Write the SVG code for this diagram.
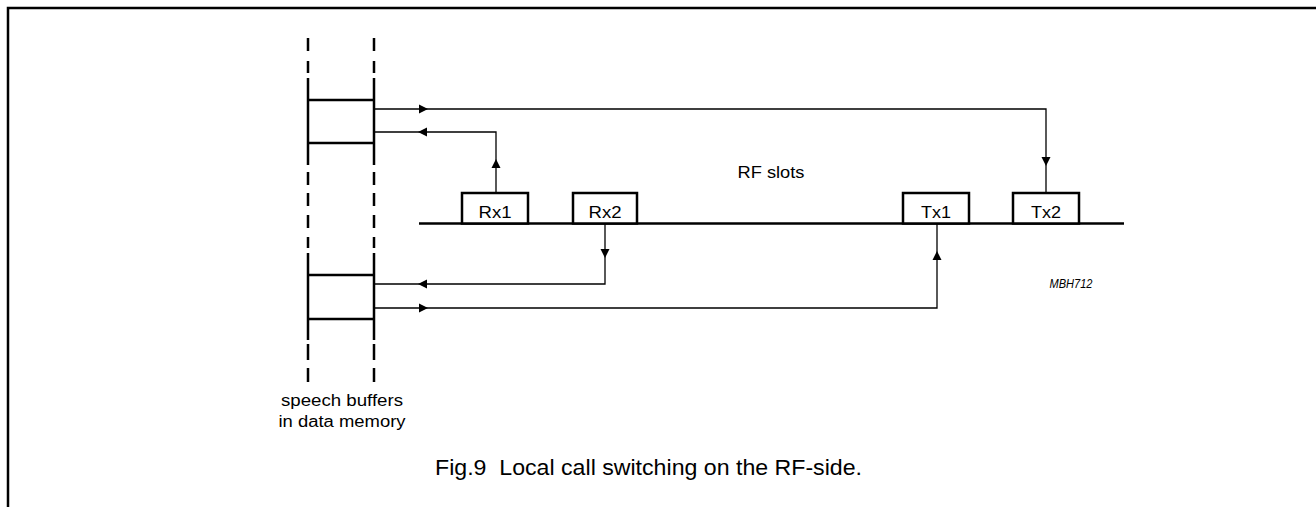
<svg xmlns="http://www.w3.org/2000/svg" width="1316" height="507" viewBox="0 0 1316 507">
<style>
.thick{stroke:#000;stroke-width:2.5;fill:none}
.thin{stroke:#000;stroke-width:1.3;fill:none}
.box{stroke:#000;stroke-width:2.5;fill:#fff}
.ah{fill:#000;stroke:none}
text{font-family:"Liberation Sans",Arial,Helvetica,sans-serif;fill:#000}
.lbl{font-size:16px;text-anchor:middle}
</style>
<rect width="1316" height="507" fill="#fff"/>
<path class="thick" d="M8,507 V8 H1316"/>

<g id="buffers">
  <path class="thick" d="M308,38V51M308,61V73M308,78V165M308,172V185M308,193V206M308,215V228M308,237V248M308,253V340M308,344V360M308,368V382"/>
  <path class="thick" d="M374,38V51M374,61V73M374,78V165M374,172V185M374,193V206M374,215V228M374,237V248M374,253V340M374,344V360M374,368V382"/>
  <path class="thick" d="M308,100H374M308,143H374M308,275H374M308,319H374"/>
  <text x="342" y="406" font-size="16" textLength="122" lengthAdjust="spacingAndGlyphs" text-anchor="middle">speech buffers</text>
  <text x="342" y="427" font-size="16" textLength="127" lengthAdjust="spacingAndGlyphs" text-anchor="middle">in data memory</text>
</g>

<g id="rf-line">
  <path class="thick" d="M419,223.5H1124"/>
</g>

<g id="rx1"><rect class="box" x="462" y="193" width="66" height="30.5"/><text class="lbl" x="495" y="218" textLength="33" lengthAdjust="spacingAndGlyphs">Rx1</text></g>
<g id="rx2"><rect class="box" x="573" y="193" width="64" height="30.5"/><text class="lbl" x="605" y="218" textLength="33" lengthAdjust="spacingAndGlyphs">Rx2</text></g>
<g id="tx1"><rect class="box" x="903" y="193" width="66" height="30.5"/><text class="lbl" x="936" y="218" textLength="30" lengthAdjust="spacingAndGlyphs">Tx1</text></g>
<g id="tx2"><rect class="box" x="1013" y="193" width="66" height="30.5"/><text class="lbl" x="1046" y="218" textLength="30" lengthAdjust="spacingAndGlyphs">Tx2</text></g>

<g id="connectors">
  <path class="thin" d="M374,109H1046V193"/>
  <polygon class="ah" points="428,109 419,104.5 419,113.5"/>
  <polygon class="ah" points="1046,166 1041.5,157 1050.5,157"/>

  <path class="thin" d="M496,193V132H374"/>
  <polygon class="ah" points="496,159 491.5,168 500.5,168"/>
  <polygon class="ah" points="418,132 427,127.5 427,136.5"/>

  <path class="thin" d="M605,224V284H374"/>
  <polygon class="ah" points="605,258 600.5,249 609.5,249"/>
  <polygon class="ah" points="418,284 427,279.5 427,288.5"/>

  <path class="thin" d="M374,308H937V224"/>
  <polygon class="ah" points="428,308 419,303.5 419,312.5"/>
  <polygon class="ah" points="937,251 932.5,260 941.5,260"/>
</g>

<g id="labels">
  <text x="771" y="178" font-size="17" textLength="67" lengthAdjust="spacingAndGlyphs" text-anchor="middle">RF slots</text>
  <text x="1071" y="288" font-size="12" font-style="italic" textLength="43" lengthAdjust="spacingAndGlyphs" text-anchor="middle">MBH712</text>
  <text x="435" y="475" font-size="21.5" textLength="427" lengthAdjust="spacingAndGlyphs">Fig.9&#160; Local call switching on the RF-side.</text>
</g>
</svg>
